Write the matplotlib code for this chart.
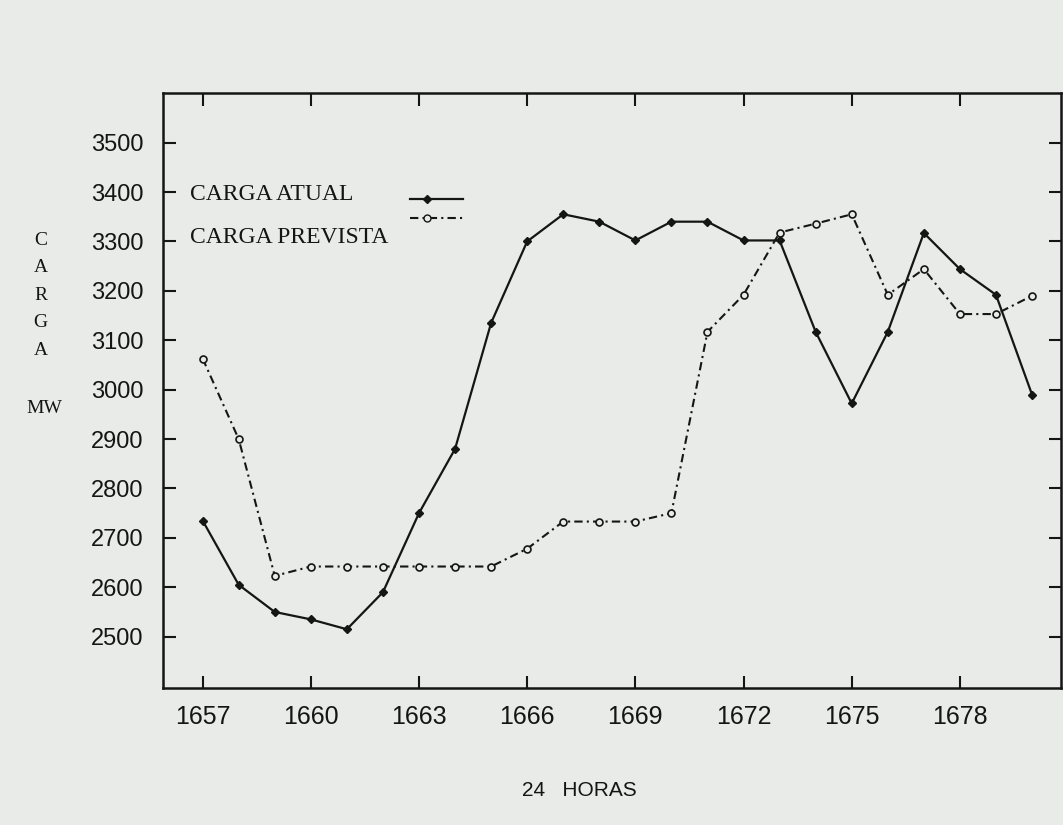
import matplotlib.pyplot as plt

horas = list(range(1657, 1681))

carga_atual = [2735, 2605, 2550, 2535, 2515, 2590, 2750, 2880, 3135, 3300,
               3355, 3340, 3302, 3340, 3340, 3302, 3302, 3117, 2972, 3117,
               3317, 3244, 3192, 2990]

carga_prevista = [3063, 2900, 2623, 2642, 2642, 2642, 2642, 2642, 2642, 2678,
                  2733, 2733, 2733, 2750, 3117, 3192, 3318, 3336, 3355, 3192,
                  3244, 3153, 3153, 3190]

x_ticks = list(range(1657, 1679, 3))
y_ticks = list(range(2500, 3600, 100))

bg = "#e8ebe8"
ink = "#151515"

fig = plt.figure(figsize=(10.63, 8.25), dpi=100, facecolor=bg)
ax = fig.add_axes([0.1533, 0.166, 0.8447, 0.721])
ax.set_facecolor(bg)

ax.plot(horas, carga_atual, color=ink, lw=1.6, marker="D", ms=4,
        mfc=ink, mec=ink)
ax.plot(horas, carga_prevista, color=ink, lw=1.5, ls=(0, (4, 2, 1, 2)),
        marker="o", ms=5, mfc=bg, mec=ink, mew=1.2)

ax.set_xlim(1655.9, 1680.8)
ax.set_ylim(2396, 3600)
ax.set_xticks(x_ticks)
ax.set_yticks(y_ticks)
ax.tick_params(direction="in", length=9, width=1.5, color=ink,
               top=True, right=True, labelcolor=ink)
ax.tick_params(axis="x", labelsize=18, pad=12)
ax.tick_params(axis="y", labelsize=17, pad=14)
for lab in ax.get_xticklabels() + ax.get_yticklabels():
    lab.set_fontfamily("Liberation Sans")
for sp in ax.spines.values():
    sp.set_linewidth(1.8)
    sp.set_color(ink)

# legend, text on the left and line samples on the right
serif = "Liberation Serif"
ax.text(0.03, 0.83, "CARGA ATUAL", transform=ax.transAxes, fontsize=17,
        family=serif, color=ink, va="center")
ax.text(0.03, 0.757, "CARGA PREVISTA", transform=ax.transAxes, fontsize=17,
        family=serif, color=ink, va="center")
ax.plot([0.275, 0.2945, 0.334], [0.822, 0.822, 0.822],
        transform=ax.transAxes, color=ink, lw=1.6, marker="D", ms=4,
        markevery=[1])
ax.plot([0.275, 0.2945, 0.334], [0.79, 0.79, 0.79], transform=ax.transAxes,
        color=ink, lw=1.5, ls=(0, (4, 2, 1, 2)), marker="o", ms=5,
        mfc=bg, mec=ink, markevery=[1])

# vertical y label
for i, ch in enumerate("CARGA"):
    fig.text(0.038, 0.709 - i * 0.0335, ch, fontsize=14, family=serif,
             color=ink, ha="center", va="center")
fig.text(0.042, 0.505, "MW", fontsize=14, family=serif, color=ink,
         ha="center", va="center")

fig.text(0.545, 0.042, "24   HORAS", fontsize=15, family="Liberation Sans",
         color=ink, ha="center", va="center")

fig.savefig("out.png", dpi=100, facecolor=bg)
